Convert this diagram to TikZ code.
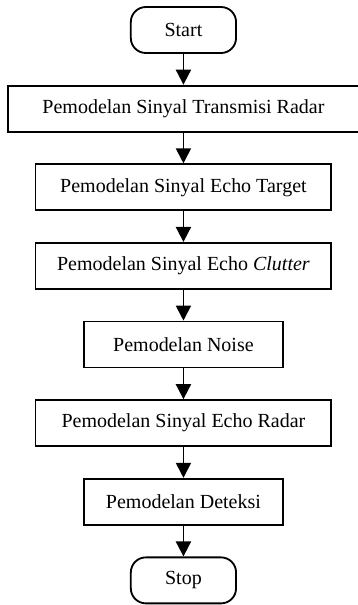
\documentclass[tikz,border=0pt]{standalone}
\usepackage{fontspec}
\setmainfont{Liberation Serif}
\usetikzlibrary{arrows.meta,positioning}

\begin{document}
\begin{tikzpicture}[
    font=\fontsize{12}{14}\selectfont,
    node distance=0.65cm,
    proses/.style={draw,line width=1.1pt,minimum height=0.97cm},
    terminal/.style={draw,line width=1.1pt,rounded corners=9pt,minimum width=2.22cm,minimum height=0.97cm},
    panah/.style={-{Triangle[width=9pt,length=9pt]},line width=1.1pt}]
    \useasboundingbox (-3.87,0.633) rectangle (3.68,-12.13);

    \node[terminal] (start) at (0,0) {Start};
    \node[proses,minimum width=7.4cm,below=of start] (transmisi) {Pemodelan Sinyal Transmisi Radar};
    \node[proses,minimum width=6.24cm,below=of transmisi] (target) {Pemodelan Sinyal Echo Target};
    \node[proses,minimum width=6.24cm,below=of target] (clutter) {Pemodelan Sinyal Echo \textit{Clutter}};
    \node[proses,minimum width=4.2cm,below=of clutter] (noise) {Pemodelan Noise};
    \node[proses,minimum width=6.24cm,below=of noise] (echo) {Pemodelan Sinyal Echo Radar};
    \node[proses,minimum width=4.2cm,below=of echo] (deteksi) {Pemodelan Deteksi};
    \node[terminal,below=of deteksi] (stop) {Stop};

    \foreach \a/\b in {start/transmisi, transmisi/target, target/clutter, clutter/noise,
                       noise/echo, echo/deteksi, deteksi/stop} {
        \draw[panah] (\a) -- (\b);
    }
\end{tikzpicture}
\end{document}
